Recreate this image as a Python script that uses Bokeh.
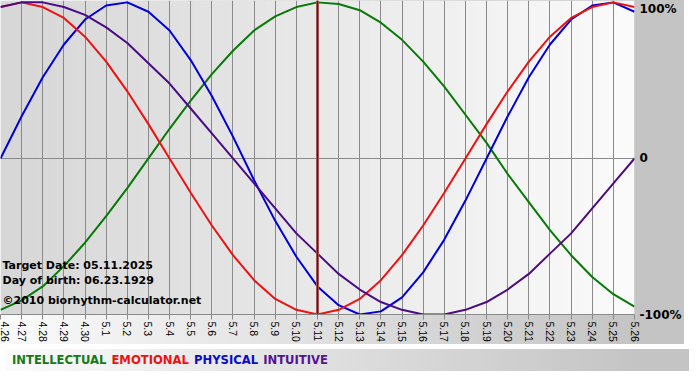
import math
import numpy as np
from bokeh.plotting import figure
from bokeh.models import Range1d, FixedTicker, Span, Label, Div
from bokeh.layouts import column
from bokeh.embed import file_html
from bokeh.resources import INLINE

# ---- data ----
dates = ["4.26", "4.27", "4.28", "4.29", "4.30", "5.1", "5.2", "5.3", "5.4", "5.5",
         "5.6", "5.7", "5.8", "5.9", "5.10", "5.11", "5.12", "5.13", "5.14", "5.15",
         "5.16", "5.17", "5.18", "5.19", "5.20", "5.21", "5.22", "5.23", "5.24", "5.25", "5.26"]

intellectual = [-0.97, -0.91, -0.82, -0.69, -0.54, -0.37, -0.19, 0.00, 0.19, 0.37, 0.54,
                0.69, 0.82, 0.91, 0.97, 1.00, 0.99, 0.95, 0.87, 0.76, 0.62, 0.46, 0.28,
                0.10, -0.10, -0.28, -0.46, -0.62, -0.76, -0.87, -0.95]
emotional = [0.97, 1.00, 0.97, 0.90, 0.78, 0.62, 0.43, 0.22, 0.00, -0.22, -0.43, -0.62,
             -0.78, -0.90, -0.97, -1.00, -0.97, -0.90, -0.78, -0.62, -0.43, -0.22, 0.00,
             0.22, 0.43, 0.62, 0.78, 0.90, 0.97, 1.00, 0.97]
physical = [0.00, 0.27, 0.52, 0.73, 0.89, 0.98, 1.00, 0.94, 0.82, 0.63, 0.40, 0.14,
            -0.14, -0.40, -0.63, -0.82, -0.94, -1.00, -0.98, -0.89, -0.73, -0.52, -0.27,
            0.00, 0.27, 0.52, 0.73, 0.89, 0.98, 1.00, 0.94]
intuitive = [0.97, 1.00, 1.00, 0.97, 0.92, 0.84, 0.74, 0.61, 0.48, 0.32, 0.16, 0.00,
             -0.16, -0.32, -0.48, -0.61, -0.74, -0.84, -0.92, -0.97, -1.00, -1.00, -0.97,
             -0.92, -0.84, -0.74, -0.61, -0.48, -0.32, -0.16, 0.00]

target_index = 15          # 5.11
target_text = "Target Date: 05.11.2025"
birth_text = "Day of birth: 06.23.1929"
copyright_text = "\u00a92010 biorhythm-calculator.net"

y_ticks = [-1.0, 0.0, 0.96]
y_tick_labels = ["-100%", "0", "100%"]

series = [
    ("INTELLECTUAL", intellectual, "#067a06", "#157a15"),
    ("EMOTIONAL", emotional, "#ee1111", "#f01010"),
    ("PHYSICAL", physical, "#0000dd", "#0a0ad0"),
    ("INTUITIVE", intuitive, "#4a0c84", "#561296"),
]
draw_order = [0, 2, 1, 3]

x = list(range(len(dates)))
Y0, Y1 = -1.0, 1.012

W = 684
BG = "linear-gradient(to right, #fbfbfb 0px, #c4c4c4 636px, #c4c4c4 100%)"

p = figure(width=W, height=344, output_backend="svg", toolbar_location=None,
           x_range=Range1d(0, len(dates) - 1), y_range=Range1d(Y0, Y1),
           y_axis_location="right",
           min_border_left=0, min_border_top=0, min_border_right=48, min_border_bottom=0)
p.border_fill_color = None
p.background_fill_color = None
p.outline_line_color = None
p.styles = {"background": BG}

# frame gradient background
n = 256
img = np.empty((1, n), dtype=np.uint32)
view = img.view(dtype=np.uint8).reshape((1, n, 4))
shade = np.linspace(0xd7, 0xfb, n).astype(np.uint8)
view[0, :, 0] = shade
view[0, :, 1] = shade
view[0, :, 2] = shade
view[0, :, 3] = 255
p.image_rgba(image=[img], x=0, y=Y0, dw=len(dates) - 1, dh=Y1 - Y0, level="image")

# grids
p.xgrid.ticker = FixedTicker(ticks=x)
p.xgrid.grid_line_color = "#8a8a8a"
p.xgrid.grid_line_width = 1
p.xgrid.grid_line_alpha = 1
p.ygrid.ticker = FixedTicker(ticks=[0])
p.ygrid.grid_line_color = "#8a8a8a"
p.ygrid.grid_line_width = 1
p.ygrid.grid_line_alpha = 1

# x axis
xa = p.xaxis[0]
xa.ticker = FixedTicker(ticks=x)
xa.major_label_overrides = {i: d for i, d in zip(x, dates)}
xa.major_label_orientation = -math.pi / 2
xa.major_label_text_font = "Liberation Sans"
xa.major_label_text_font_size = "10.5px"
xa.major_label_text_color = "#000000"
xa.major_label_standoff = 2
xa.axis_line_color = "#8a8a8a"
xa.major_tick_line_color = "#8a8a8a"
xa.major_tick_out = 5
xa.major_tick_in = 0
xa.minor_tick_line_color = None
xa.minor_tick_out = 0
xa.minor_tick_in = 0

# y axis (right)
ya = p.yaxis[0]
ya.ticker = FixedTicker(ticks=y_ticks)
ya.major_label_overrides = {t: s for t, s in zip(y_ticks, y_tick_labels)}
ya.major_label_text_font = "DejaVu Sans"
ya.major_label_text_font_style = "bold"
ya.major_label_text_font_size = "12px"
ya.major_label_text_color = "#000000"
ya.major_label_standoff = 5
ya.axis_line_color = None
ya.major_tick_line_color = None
ya.minor_tick_line_color = None
ya.major_tick_out = 0
ya.major_tick_in = 0
ya.minor_tick_out = 0
ya.minor_tick_in = 0

# target date marker
p.add_layout(Span(location=target_index, dimension="height",
                  line_color="#b86a6a", line_width=3))
p.add_layout(Span(location=target_index, dimension="height",
                  line_color="#5e1212", line_width=1.5))

# curves
for k in draw_order:
    name, vals, col, _ = series[k]
    p.line(x, vals, line_color=col, line_width=2)

# info texts
for txt, yy in [(target_text, -0.687), (birth_text, -0.781), (copyright_text, -0.912)]:
    p.add_layout(Label(x=0, y=yy, x_offset=2, text=txt, text_font="DejaVu Sans",
                       text_font_style="bold", text_font_size="11px",
                       text_color="#000000", text_baseline="middle"))

# legend row
spans = " ".join(
    f'<span style="color:{lc}">{name}</span>' for name, _, _, lc in series)
legend = Div(text=f'<div style="font-family:\'DejaVu Sans\';font-weight:bold;'
                  f'font-size:11.6px;line-height:22px;padding-left:7px;white-space:nowrap;'
                  f'word-spacing:1px">{spans}</div>',
             width=W, height=22, styles={"background": BG})

layout = column(p, legend, spacing=0)
open("out.html", "w").write(file_html(layout, INLINE))
